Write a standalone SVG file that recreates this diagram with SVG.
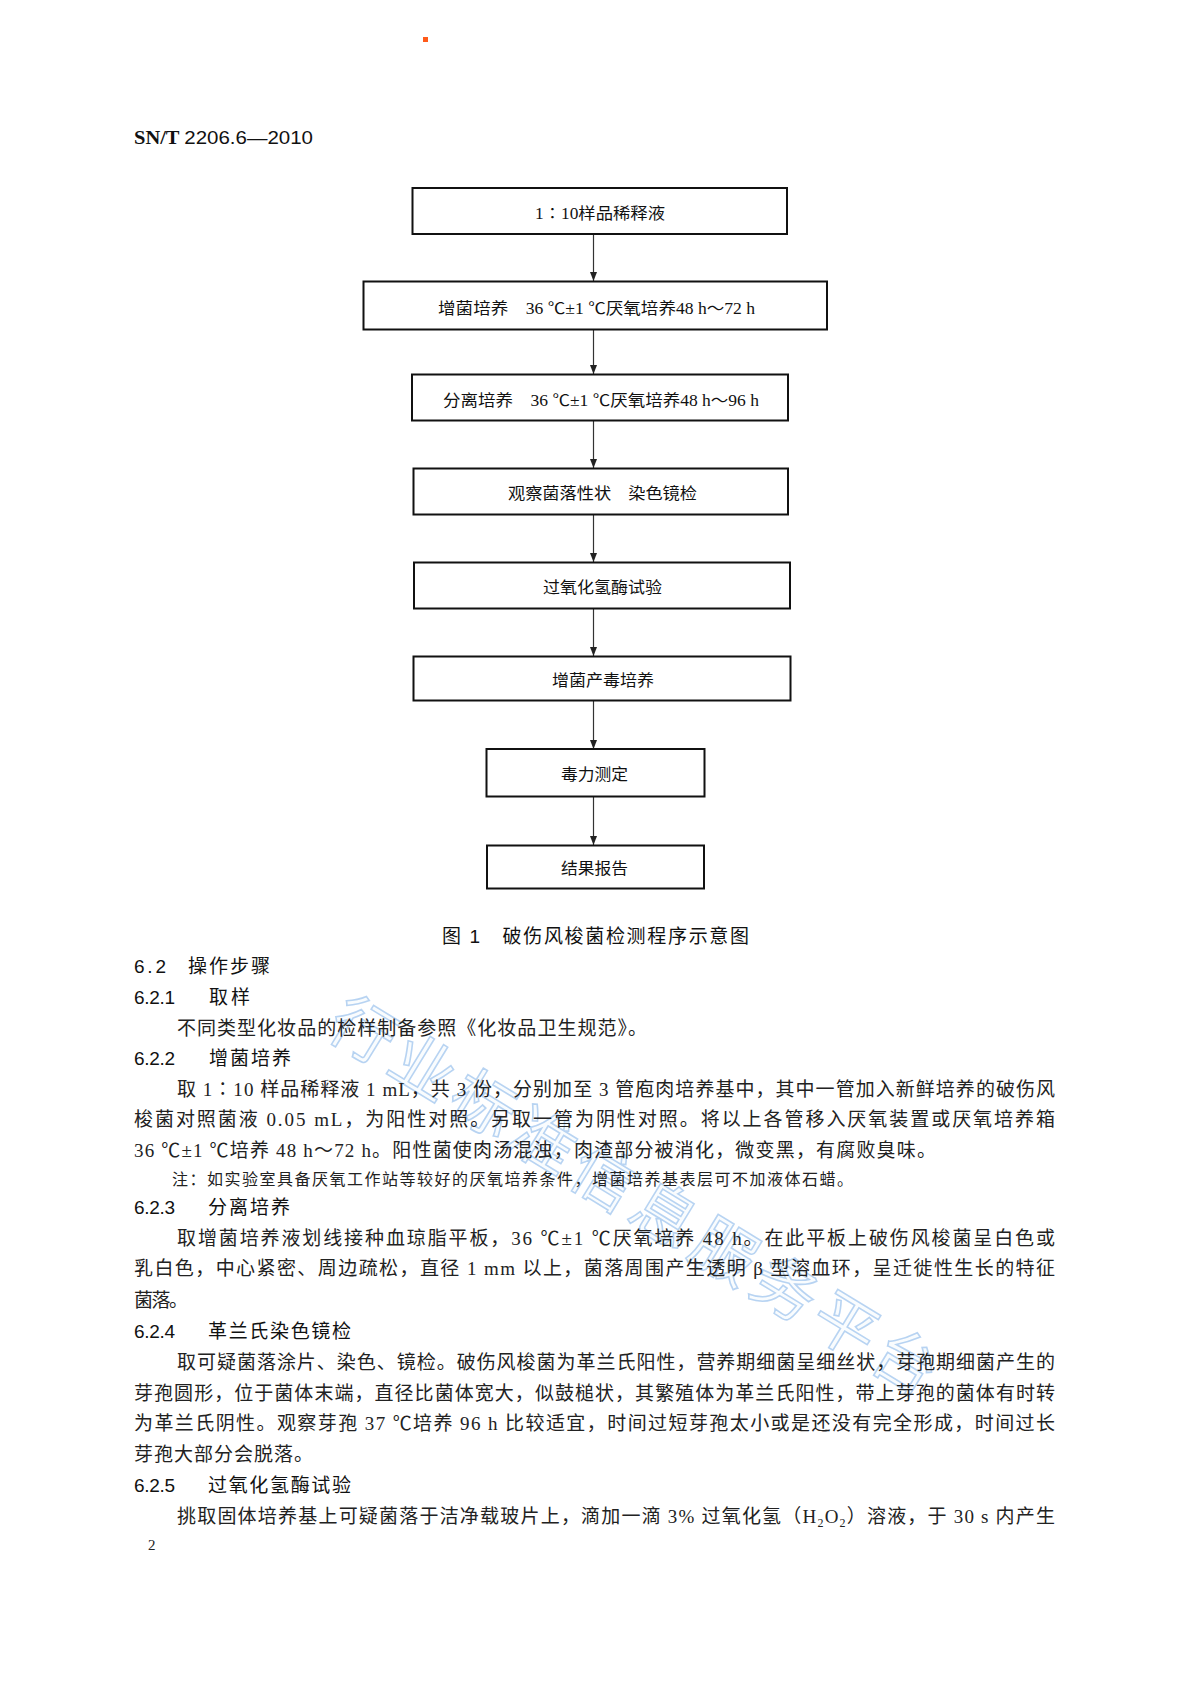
<svg xmlns="http://www.w3.org/2000/svg" width="1190" height="1683" viewBox="0 0 1190 1683">
<style>
.box{fill:#fff;stroke:#111;stroke-width:2}
.bt{font-family:"Liberation Serif","Noto Sans CJK SC",serif;font-size:16px;fill:#111;text-anchor:start;dominant-baseline:central}
.body{font-family:"Liberation Serif","Noto Sans CJK SC",serif;font-size:19px;fill:#222;dominant-baseline:central}
.note{font-family:"Liberation Serif","Noto Sans CJK SC",serif;font-size:16px;fill:#222;dominant-baseline:central}
.hd{font-family:"Liberation Sans","Noto Sans CJK SC",sans-serif;font-size:19px;fill:#111;dominant-baseline:central}
.num{font-family:"Liberation Sans",sans-serif;font-size:19px;fill:#111;dominant-baseline:central}
.conn{stroke:#333;stroke-width:1.2;fill:none}
.wm{font-family:"Noto Sans CJK SC",sans-serif;font-size:64px;fill:#eef5fd;fill-opacity:0.35;stroke:#7fb0e8;stroke-width:1.6;stroke-opacity:0.55}
</style>
<defs>
<marker id="ah" markerUnits="userSpaceOnUse" markerWidth="10" markerHeight="8" refX="9" refY="4" orient="auto">
<path d="M0,0.5 L9,4 L0,7.5 z" fill="#222"/>
</marker>
</defs>
<rect width="1190" height="1683" fill="#fff"/>
<rect x="423" y="37" width="5" height="5" fill="#ff5a1a"/>
<text x="134" y="137" font-family="Liberation Serif" font-size="19" fill="#111" dominant-baseline="central" textLength="179" lengthAdjust="spacingAndGlyphs"><tspan font-weight="bold">SN/T </tspan><tspan font-family="Liberation Sans">2206.6—2010</tspan></text>

<g id="connectors">
<line class="conn" x1="593.5" y1="235" x2="593.5" y2="281" marker-end="url(#ah)"/>
<line class="conn" x1="593.5" y1="330" x2="593.5" y2="374" marker-end="url(#ah)"/>
<line class="conn" x1="593.5" y1="421" x2="593.5" y2="468" marker-end="url(#ah)"/>
<line class="conn" x1="593.5" y1="515" x2="593.5" y2="562" marker-end="url(#ah)"/>
<line class="conn" x1="593.5" y1="609" x2="593.5" y2="656" marker-end="url(#ah)"/>
<line class="conn" x1="593.5" y1="701" x2="593.5" y2="749" marker-end="url(#ah)"/>
<line class="conn" x1="593.5" y1="797" x2="593.5" y2="845" marker-end="url(#ah)"/>
</g>

<g id="n1"><rect class="box" x="412.5" y="188" width="374.5" height="46"/><text class="bt" x="535" y="213" textLength="130" lengthAdjust="spacingAndGlyphs">1∶10样品稀释液</text></g>
<g id="n2"><rect class="box" x="363.5" y="281.5" width="463.5" height="48"/><text class="bt" x="438" y="308" textLength="317" lengthAdjust="spacingAndGlyphs">增菌培养　36 ℃±1 ℃厌氧培养48 h～72 h</text></g>
<g id="n3"><rect class="box" x="412" y="374.5" width="376" height="46"/><text class="bt" x="443" y="400" textLength="316" lengthAdjust="spacingAndGlyphs">分离培养　36 ℃±1 ℃厌氧培养48 h～96 h</text></g>
<g id="n4"><rect class="box" x="413.5" y="468.5" width="374.5" height="46"/><text class="bt" x="508" y="493" textLength="189" lengthAdjust="spacingAndGlyphs">观察菌落性状　染色镜检</text></g>
<g id="n5"><rect class="box" x="414" y="562.5" width="376" height="46"/><text class="bt" x="543" y="587" textLength="119" lengthAdjust="spacingAndGlyphs">过氧化氢酶试验</text></g>
<g id="n6"><rect class="box" x="413.5" y="656.5" width="377" height="44"/><text class="bt" x="552" y="680" textLength="102" lengthAdjust="spacingAndGlyphs">增菌产毒培养</text></g>
<g id="n7"><rect class="box" x="486.5" y="749" width="218" height="47.5"/><text class="bt" x="561" y="774" textLength="67" lengthAdjust="spacingAndGlyphs">毒力测定</text></g>
<g id="n8"><rect class="box" x="487" y="845.5" width="217" height="43"/><text class="bt" x="561" y="868" textLength="67" lengthAdjust="spacingAndGlyphs">结果报告</text></g>

<text class="hd" x="442" y="936" font-size="18" textLength="307" lengthAdjust="spacing">图 1　破伤风梭菌检测程序示意图</text>

<text class="wm" x="637" y="1192" text-anchor="middle" dominant-baseline="central" transform="rotate(31.4 637 1192)" textLength="700" lengthAdjust="spacing">行业标准信息服务平台</text>

<text class="num" x="134" y="966" textLength="32" lengthAdjust="spacing">6.2</text><text class="hd" x="188" y="966" textLength="82" lengthAdjust="spacing">操作步骤</text>
<text class="num" x="134" y="997" textLength="41" lengthAdjust="spacing">6.2.1</text><text class="hd" x="209" y="997" textLength="41" lengthAdjust="spacing">取样</text>
<text class="body" x="177" y="1028" textLength="470" lengthAdjust="spacing">不同类型化妆品的检样制备参照《化妆品卫生规范》。</text>
<text class="num" x="134" y="1058" textLength="41" lengthAdjust="spacing">6.2.2</text><text class="hd" x="209" y="1058" textLength="82" lengthAdjust="spacing">增菌培养</text>
<text class="body" x="177" y="1089" textLength="878" lengthAdjust="spacing">取 1∶10 样品稀释液 1 mL，共 3 份，分别加至 3 管庖肉培养基中，其中一管加入新鲜培养的破伤风</text>
<text class="body" x="134" y="1119" textLength="921" lengthAdjust="spacing">梭菌对照菌液 0.05 mL，为阳性对照。另取一管为阴性对照。将以上各管移入厌氧装置或厌氧培养箱</text>
<text class="body" x="134" y="1150" textLength="802" lengthAdjust="spacing">36 ℃±1 ℃培养 48 h～72 h。阳性菌使肉汤混浊，肉渣部分被消化，微变黑，有腐败臭味。</text>
<text class="note" x="172" y="1179" textLength="681" lengthAdjust="spacing">注：如实验室具备厌氧工作站等较好的厌氧培养条件，增菌培养基表层可不加液体石蜡。</text>
<text class="num" x="134" y="1207" textLength="41" lengthAdjust="spacing">6.2.3</text><text class="hd" x="208" y="1207" textLength="82" lengthAdjust="spacing">分离培养</text>
<text class="body" x="177" y="1238" textLength="878" lengthAdjust="spacing">取增菌培养液划线接种血琼脂平板，36 ℃±1 ℃厌氧培养 48 h。在此平板上破伤风梭菌呈白色或</text>
<text class="body" x="134" y="1268" textLength="921" lengthAdjust="spacing">乳白色，中心紧密、周边疏松，直径 1 mm 以上，菌落周围产生透明 β 型溶血环，呈迁徙性生长的特征</text>
<text class="body" x="134" y="1300" textLength="54" lengthAdjust="spacing">菌落。</text>
<text class="num" x="134" y="1331" textLength="41" lengthAdjust="spacing">6.2.4</text><text class="hd" x="208" y="1331" textLength="143" lengthAdjust="spacing">革兰氏染色镜检</text>
<text class="body" x="177" y="1362" textLength="878" lengthAdjust="spacing">取可疑菌落涂片、染色、镜检。破伤风梭菌为革兰氏阳性，营养期细菌呈细丝状，芽孢期细菌产生的</text>
<text class="body" x="134" y="1393" textLength="921" lengthAdjust="spacing">芽孢圆形，位于菌体末端，直径比菌体宽大，似鼓槌状，其繁殖体为革兰氏阳性，带上芽孢的菌体有时转</text>
<text class="body" x="134" y="1423" textLength="921" lengthAdjust="spacing">为革兰氏阴性。观察芽孢 37 ℃培养 96 h 比较适宜，时间过短芽孢太小或是还没有完全形成，时间过长</text>
<text class="body" x="134" y="1454" textLength="179" lengthAdjust="spacing">芽孢大部分会脱落。</text>
<text class="num" x="134" y="1485" textLength="41" lengthAdjust="spacing">6.2.5</text><text class="hd" x="208" y="1485" textLength="143" lengthAdjust="spacing">过氧化氢酶试验</text>
<text class="body" x="177" y="1516" textLength="878" lengthAdjust="spacing">挑取固体培养基上可疑菌落于洁净载玻片上，滴加一滴 3% 过氧化氢（H<tspan font-size="12" baseline-shift="sub">2</tspan>O<tspan font-size="12" baseline-shift="sub">2</tspan>）溶液，于 30 s 内产生</text>
<text x="148" y="1545" font-family="Liberation Serif" font-size="15" fill="#222" dominant-baseline="central">2</text>
</svg>
